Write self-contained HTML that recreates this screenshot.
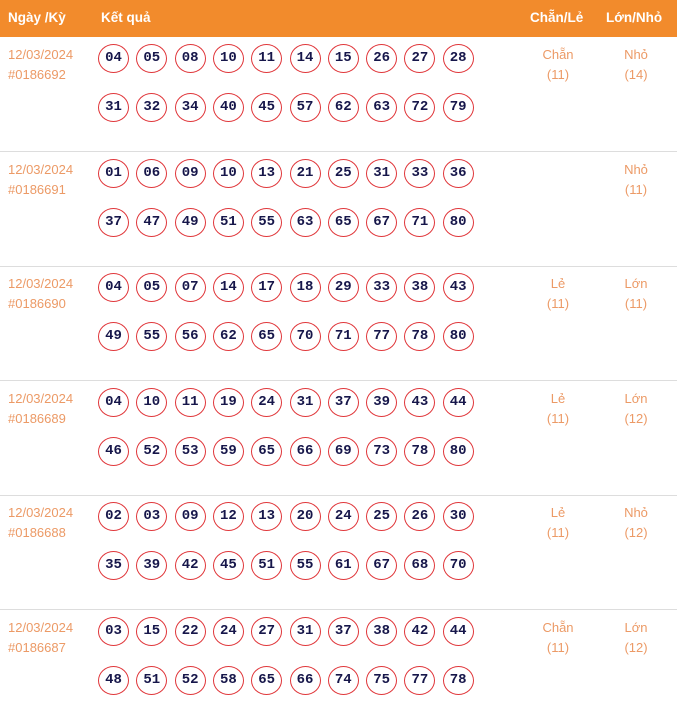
<!DOCTYPE html>
<html><head><meta charset="utf-8"><style>
body{margin:0;width:677px;height:716px;background:#fff;position:relative;overflow:hidden;font-family:"Liberation Sans",sans-serif}
.hd{position:absolute;left:0;top:0;width:677px;height:37px;background:#f28b2c;color:#fff;font-weight:bold;font-size:13.5px}
.hd span{position:absolute;top:10px}
.sep{position:absolute;left:0;width:677px;height:1px;background:#ddd}
.d{position:absolute;left:8px;color:#ec9a66;font-size:13px;line-height:20px}
.c{position:absolute;color:#ec9a66;font-size:13px;line-height:20px;text-align:center;width:70px}
.b{position:absolute;width:29px;height:27px;border:1.5px solid #e0363a;border-radius:50%;font-family:"Liberation Mono",monospace;font-weight:bold;font-size:14px;color:#16164a;text-align:center;line-height:27px}
</style></head><body>
<div class="hd"><span style="left:8px">Ngày /Kỳ</span><span style="left:101px">Kết quả</span><span style="left:530px">Chẵn/Lẻ</span><span style="left:606px">Lớn/Nhỏ</span></div>
<div id="r"></div>
<script>
var rows=[
["#0186692","04 05 08 10 11 14 15 26 27 28 31 32 34 40 45 57 62 63 72 79","Chẵn","(11)","Nhỏ","(14)"],
["#0186691","01 06 09 10 13 21 25 31 33 36 37 47 49 51 55 63 65 67 71 80","","","Nhỏ","(11)"],
["#0186690","04 05 07 14 17 18 29 33 38 43 49 55 56 62 65 70 71 77 78 80","Lẻ","(11)","Lớn","(11)"],
["#0186689","04 10 11 19 24 31 37 39 43 44 46 52 53 59 65 66 69 73 78 80","Lẻ","(11)","Lớn","(12)"],
["#0186688","02 03 09 12 13 20 24 25 26 30 35 39 42 45 51 55 61 67 68 70","Lẻ","(11)","Nhỏ","(12)"],
["#0186687","03 15 22 24 27 31 37 38 42 44 48 51 52 58 65 66 74 75 77 78","Chẵn","(11)","Lớn","(12)"]];
var h="";
rows.forEach(function(r,i){
 var t=37+i*114.6;
 h+='<div class="d" style="top:'+(t+8)+'px">12/03/2024<br>'+r[0]+'</div>';
 h+='<div class="c" style="left:523px;top:'+(t+8)+'px">'+r[2]+'<br>'+r[3]+'</div>';
 h+='<div class="c" style="left:601px;top:'+(t+8)+'px">'+r[4]+'<br>'+r[5]+'</div>';
 r[1].split(" ").forEach(function(n,k){
  var x=98+(k%10)*38.3, y=t+7+(k>=10?49:0);
  h+='<div class="b" style="left:'+x+'px;top:'+y+'px">'+n+'</div>';
 });
 if(i<5)h+='<div class="sep" style="top:'+(t+114)+'px"></div>';
});
document.getElementById("r").innerHTML=h;
</script>
</body></html>
